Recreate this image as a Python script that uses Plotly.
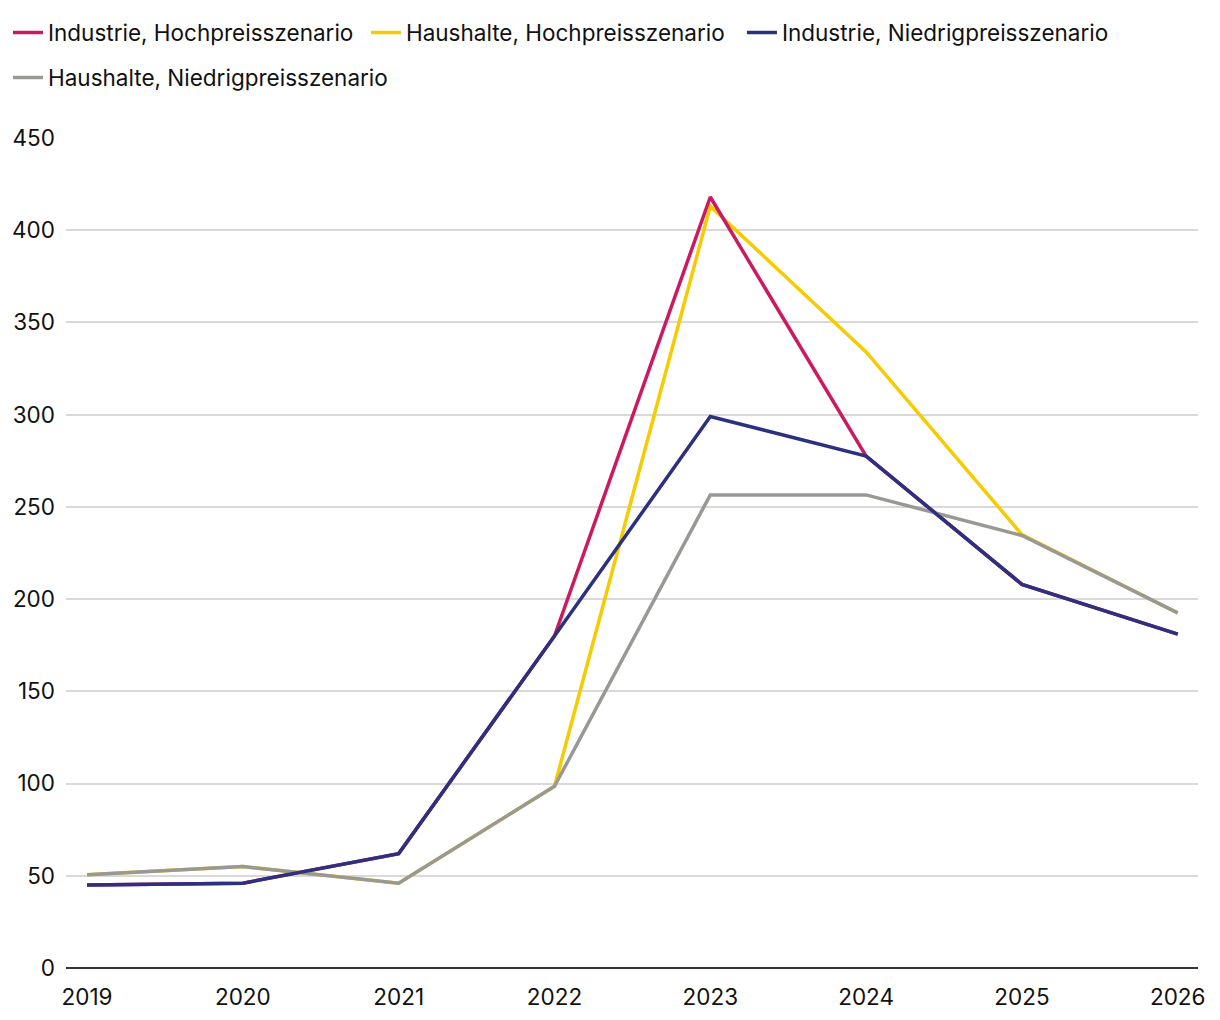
import plotly.graph_objects as go

years = [2019, 2020, 2021, 2022, 2023, 2024, 2025, 2026]

industrie_hoch = [45, 46, 62, 180, 418, 277.5, 208, 181]
haushalte_hoch = [50.5, 55, 46, 98.5, 413, 334, 235, 192.5]
industrie_niedrig = [45, 46, 62, 180, 299, 277.5, 208, 181]
haushalte_niedrig = [50.5, 55, 46, 98.5, 256.5, 256.5, 234.5, 192.5]

font = "Inter"
fs = 22.5

fig = go.Figure()

# draw order: yellow, magenta, grey, navy (navy/grey on top)
fig.add_trace(go.Scatter(x=years, y=haushalte_hoch, name="Haushalte, Hochpreisszenario",
                         mode="lines", line=dict(color="#F6CB00", width=3.5), legend="legend2",
                         showlegend=True))
fig.add_trace(go.Scatter(x=years, y=industrie_hoch, name="Industrie, Hochpreisszenario",
                         mode="lines", line=dict(color="#CB1A60", width=3.5), legend="legend",
                         showlegend=True))
fig.add_trace(go.Scatter(x=years, y=haushalte_niedrig, name="Haushalte, Niedrigpreisszenario",
                         mode="lines", line=dict(color="#999894", width=3.5), legend="legend4",
                         showlegend=True))
fig.add_trace(go.Scatter(x=years, y=industrie_niedrig, name="Industrie, Niedrigpreisszenario",
                         mode="lines", line=dict(color="#2B317F", width=3.5), legend="legend3",
                         showlegend=True))

def leg(x, y):
    return dict(orientation="h", xref="container", yref="container",
                x=x, y=y, xanchor="left", yanchor="middle", visible=True,
                font=dict(size=fs), itemwidth=30)

fig.update_layout(
    width=1220, height=1020,
    showlegend=True,
    margin=dict(l=58, r=30, t=130, b=60),
    paper_bgcolor="white", plot_bgcolor="white",
    font=dict(family=font, size=fs, color="#111111"),
    legend=leg(0, 0.9755),
    legend2=leg(0.2934, 0.9755),
    legend3=leg(0.6016, 0.9755),
    legend4=leg(0, 0.9314),
)

fig.update_xaxes(range=[2018.865, 2026.13], tickvals=years, ticktext=[str(y) for y in years],
                 showgrid=False, zeroline=False, showline=False, ticks="", automargin=False,
                 ticklabelstandoff=13, tickfont=dict(size=fs))
fig.update_yaxes(range=[0, 450], dtick=50, showgrid=True, gridcolor="#D9D9D9", gridwidth=2,
                 zeroline=True, zerolinecolor="#333333", zerolinewidth=2, automargin=False,
                 ticks="", ticklabelstandoff=10, tickfont=dict(size=fs))

fig.write_html("out.html")
